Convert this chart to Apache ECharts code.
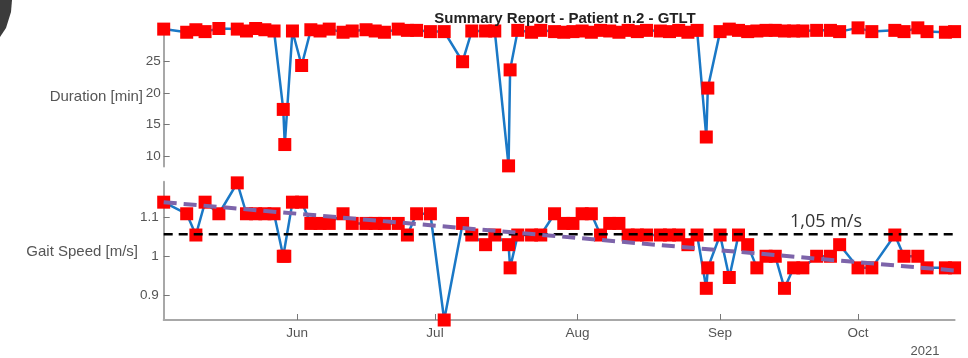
<!DOCTYPE html>
<html>
<head>
<meta charset="utf-8">
<script src="https://cdn.jsdelivr.net/npm/echarts@6/dist/echarts.min.js"></script>
<style>html,body{margin:0;padding:0;background:#fff;}#chart{width:968px;height:358px;}</style>
</head>
<body>
<div id="chart"></div>
<script>
// ---- data ----
const dates = [
  '2021-05-03','2021-05-08','2021-05-10','2021-05-12','2021-05-15','2021-05-19','2021-05-21','2021-05-23',
  '2021-05-25','2021-05-27','2021-05-29 00:00','2021-05-29 08:00','2021-05-31','2021-06-02','2021-06-04',
  '2021-06-06','2021-06-08','2021-06-11','2021-06-13','2021-06-16','2021-06-18','2021-06-20','2021-06-23',
  '2021-06-25','2021-06-27','2021-06-30','2021-07-03','2021-07-07','2021-07-09','2021-07-12','2021-07-14',
  '2021-07-17 00:00','2021-07-17 08:00','2021-07-19','2021-07-22','2021-07-24','2021-07-27','2021-07-29',
  '2021-07-31','2021-08-02','2021-08-04','2021-08-06','2021-08-08','2021-08-10','2021-08-12','2021-08-14',
  '2021-08-16','2021-08-19','2021-08-21','2021-08-23','2021-08-25','2021-08-27','2021-08-29 00:00',
  '2021-08-29 08:00','2021-09-01','2021-09-03','2021-09-05','2021-09-07','2021-09-09','2021-09-11',
  '2021-09-13','2021-09-15','2021-09-17','2021-09-19','2021-09-22','2021-09-25','2021-09-27','2021-10-01',
  '2021-10-04','2021-10-09','2021-10-11','2021-10-14','2021-10-16','2021-10-20','2021-10-22'
];
const duration = [
  30.2,29.7,30.1,29.8,30.3,30.2,29.9,30.3,
  30.1,29.9,17.4,11.8,29.9,24.4,30.1,
  29.9,30.2,29.7,29.9,30.1,29.9,29.7,30.2,
  30.0,30.0,29.8,29.8,25.0,29.9,29.9,29.9,
  8.4,23.7,30.0,29.7,30.0,29.8,29.7,
  29.8,29.9,29.7,30.0,29.9,29.7,30.0,29.8,
  30.0,29.9,29.8,30.0,29.7,30.0,13.0,
  20.8,29.8,30.2,30.0,29.8,29.9,30.0,
  30.0,29.9,29.9,29.9,30.0,30.0,29.8,30.4,
  29.8,30.0,29.8,30.4,29.8,29.7,29.8
];
const gaitSpeed = [
  1.14,1.11,1.055,1.14,1.11,1.19,1.11,1.11,
  1.11,1.11,1.0,1.0,1.14,1.14,1.085,
  1.085,1.085,1.11,1.085,1.085,1.085,1.085,1.085,
  1.055,1.11,1.11,0.835,1.085,1.055,1.03,1.055,
  1.03,0.97,1.055,1.055,1.055,1.11,1.085,
  1.085,1.11,1.11,1.055,1.085,1.085,1.055,1.055,
  1.055,1.055,1.055,1.055,1.03,1.055,0.917,
  0.97,1.055,0.945,1.055,1.03,0.97,1.0,
  1.0,0.917,0.97,0.97,1.0,1.0,1.03,0.97,
  0.97,1.055,1.0,1.0,0.97,0.97,0.97
];
const trendDates = ['2021-05-03','2021-10-22'];
const trendValues = [1.14, 0.963];
const thresholdDates = ['2021-05-03','2021-10-24 12:00'];
const thresholdValue = 1.057;
const thresholdLabel = '1,05 m/s';
const monthTicks = ['2021-06-01','2021-07-01','2021-08-01','2021-09-01','2021-10-01'];
const monthNames = ['Jan','Feb','Mar','Apr','May','Jun','Jul','Aug','Sep','Oct','Nov','Dec'];
const durationTicks = [10,15,20,25];
const speedTicks = [0.9,1,1.1];
const xRange = ['2021-05-03','2021-10-22'];
const titleText = 'Summary Report - Patient n.2 - GTLT';
const yearText = '2021';

function toTime(s){
  const [d,t] = s.split(' ');
  const [y,m,dd] = d.split('-').map(Number);
  let h=0, mi=0;
  if (t) { [h,mi] = t.split(':').map(Number); }
  return new Date(y, m-1, dd, h, mi).getTime();
}
const monthTickTimes = monthTicks.map(toTime);
const durData = dates.map((d,i)=>[toTime(d), duration[i]]);
const spdData = dates.map((d,i)=>[toTime(d), gaitSpeed[i]]);
const trendData = trendDates.map((d,i)=>[toTime(d), trendValues[i]]);
const thresholdData = thresholdDates.map(d=>[toTime(d), thresholdValue]);

const FONT = '"Liberation Sans", Arial, sans-serif';
const axisGray = '#a8a8a8';
const labelGray = '#555';

const chart = echarts.init(document.getElementById('chart'), null, {renderer:'canvas'});
const option = {
  backgroundColor: '#fff',
  animation: false,
  title: {
    text: titleText, left: 560, top: 6, textAlign: 'center',
    textStyle: {fontFamily: FONT, fontSize: 15, fontWeight: 'bold', color: '#222'}
  },
  grid: [
    {left: 163.7, right: 13.4, top: 33.5, height: 133},
    {left: 163.7, right: 13.4, top: 181.7, height: 138.3}
  ],
  xAxis: [
    {type: 'value', gridIndex: 0, min: toTime(xRange[0]), max: toTime(xRange[1]), show: false},
    {type: 'value', gridIndex: 1, min: toTime(xRange[0]), max: toTime(xRange[1]),
     axisLine: {show: true, lineStyle: {color: axisGray, width: 2}},
     axisTick: {show: true, inside: true, length: 6, customValues: monthTickTimes, lineStyle: {color: '#777', width: 1}},
     axisLabel: {show: true, customValues: monthTickTimes, color: labelGray, fontFamily: FONT, fontSize: 13.5, margin: 6,
       formatter: v => monthNames[new Date(v).getMonth()]},
     splitLine: {show: false}}
  ],
  yAxis: [
    {type: 'value', gridIndex: 0, min: 8.3, max: 29.5,
     axisLine: {show: true, lineStyle: {color: axisGray, width: 2}},
     axisTick: {show: true, inside: true, length: 6, customValues: durationTicks, lineStyle: {color: '#777'}},
     axisLabel: {show: true, customValues: durationTicks, color: labelGray, fontFamily: FONT, fontSize: 13.5, margin: 3},
     splitLine: {show: false}},
    {type: 'value', gridIndex: 1, min: 0.835, max: 1.193,
     axisLine: {show: true, lineStyle: {color: axisGray, width: 2}},
     axisTick: {show: true, inside: true, length: 6, customValues: speedTicks, lineStyle: {color: '#777'}},
     axisLabel: {show: true, customValues: speedTicks, color: labelGray, fontFamily: FONT, fontSize: 13.5, margin: 5,
       formatter: v => String(Math.round(v*10)/10)},
     splitLine: {show: false}}
  ],
  series: [
    {type: 'line', xAxisIndex: 0, yAxisIndex: 0, data: durData, clip: false, z: 3,
     symbol: 'rect', symbolSize: 13, showAllSymbol: true,
     lineStyle: {color: '#1A78C6', width: 2.5}, itemStyle: {color: '#FF0000'}},
    {type: 'line', xAxisIndex: 1, yAxisIndex: 1, data: spdData, clip: false, z: 3,
     symbol: 'rect', symbolSize: 13, showAllSymbol: true,
     lineStyle: {color: '#1A78C6', width: 2.5}, itemStyle: {color: '#FF0000'}},
    {type: 'line', xAxisIndex: 1, yAxisIndex: 1, data: thresholdData, clip: false, z: 4,
     symbol: 'none', silent: true, lineStyle: {color: '#000', width: 2.5, type: [9, 6]}},
    {type: 'line', xAxisIndex: 1, yAxisIndex: 1, data: trendData, clip: false, z: 5,
     symbol: 'none', silent: true, lineStyle: {color: '#7D64AA', width: 4, type: [13, 7]}}
  ],
  graphic: [
    {type: 'text', x: 143, y: 97, style: {text: 'Duration [min]', fill: '#555', font: '15px ' + FONT, align: 'right', verticalAlign: 'middle'}},
    {type: 'text', x: 138, y: 252, style: {text: 'Gait Speed [m/s]', fill: '#555', font: '15px ' + FONT, align: 'right', verticalAlign: 'middle'}},
    {type: 'text', x: 826, y: 222, style: {text: thresholdLabel, fill: '#333', font: '18px "Open Sans", sans-serif', align: 'center', verticalAlign: 'middle'}},
    {type: 'text', x: 925, y: 351, style: {text: yearText, fill: '#555', font: '13px ' + FONT, align: 'center', verticalAlign: 'middle'}},
    {type: 'polygon', shape: {points: [[0,0],[12,0],[11,12],[6,28],[0,37]]}, style: {fill: '#3c3c3c'}}
  ]
};
chart.setOption(option);
</script>
</body>
</html>
